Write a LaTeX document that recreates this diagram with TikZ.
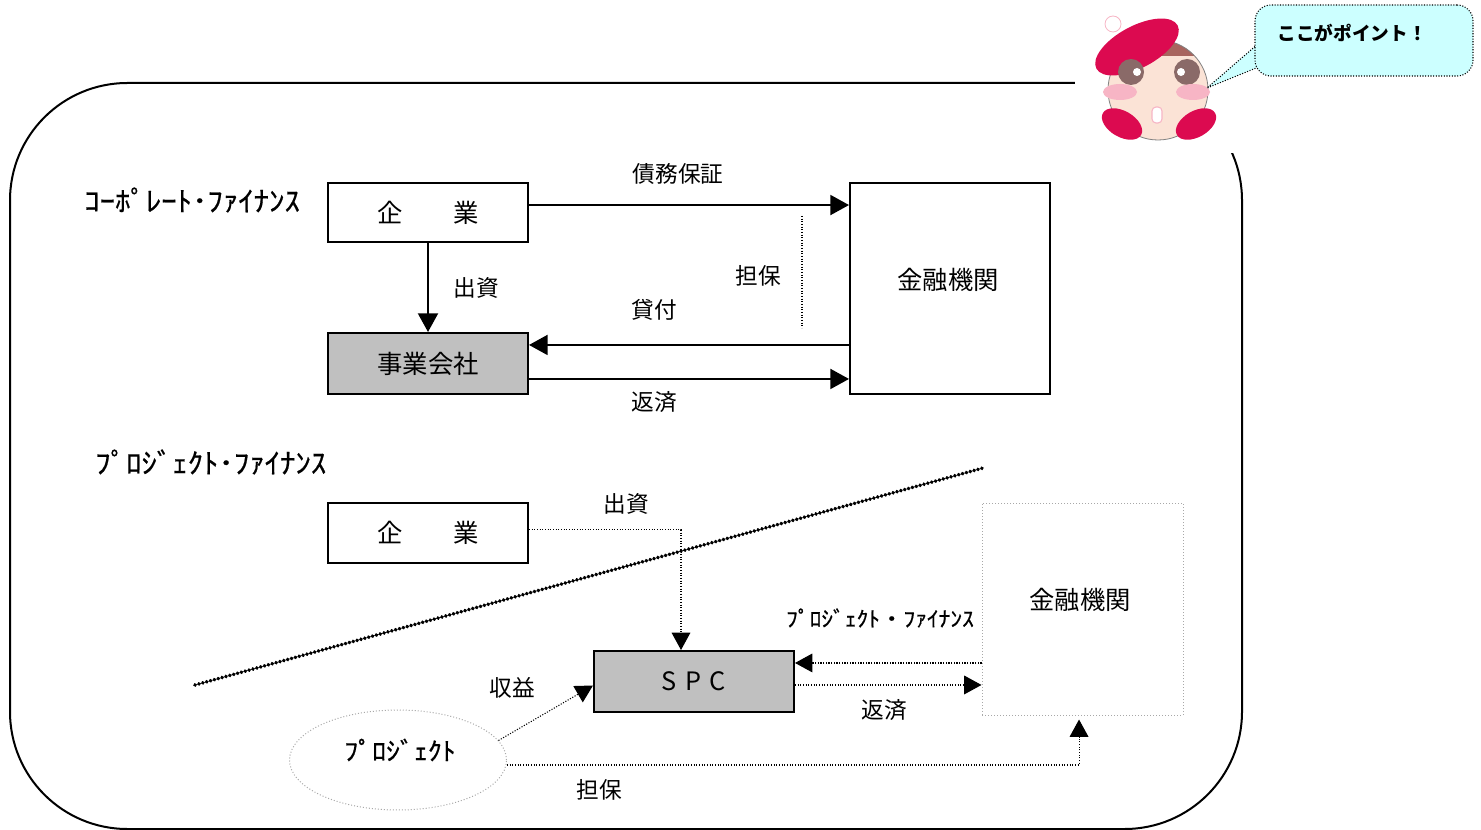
\documentclass[tikz,border=0pt]{standalone}
\usepackage{fontspec}
\setmainfont{Noto Sans CJK JP}
\newfontfamily\hankaku{Noto Sans CJK JP}[FakeStretch=1.1, FakeBold=0.6]
\usepackage{tikz}
\usetikzlibrary{arrows.meta, positioning, shapes.geometric}

\definecolor{boxgray}{HTML}{C0C0C0}
\definecolor{dotgray}{HTML}{A8A8A8}
\definecolor{beret}{HTML}{DC0A50}
\definecolor{skin}{HTML}{FBE3D6}
\definecolor{hair}{HTML}{A8645E}
\definecolor{iris}{HTML}{8A6A68}
\definecolor{cheek}{HTML}{F7B5C5}
\definecolor{bubblefill}{HTML}{CCFFFF}

\begin{document}
\begin{tikzpicture}[
    x=0.75pt, y=-0.75pt,
    every node/.style={inner sep=0pt, font=\fontsize{17pt}{20pt}\selectfont},
    box/.style={rectangle, draw, line width=1.5pt, minimum width=150pt,
                font=\fontsize{19pt}{22pt}\selectfont},
    shaded/.style={box, fill=boxgray},
    ghost/.style={rectangle, draw=dotgray, line width=0.75pt,
                  dash pattern=on 0.75pt off 1.5pt},
    heading/.style={anchor=west, font=\hankaku\fontsize{21pt}{24pt}\selectfont},
    lbl/.style={font=\fontsize{17pt}{20pt}\selectfont},
    arrow/.style={-{Triangle[length=14pt, width=15pt]}, line width=1.5pt},
    dotline/.style={line width=0.8pt, dash pattern=on 0.8pt off 1.2pt},
    dotarrow/.style={dotline, -{Triangle[length=13pt, width=14pt]}},
    beads/.style={line width=2.8pt, dash pattern=on 0.2pt off 2.8pt, line cap=round},
]
\useasboundingbox (0,0) rectangle (1481,830);

% outer frame, opened where the mascot sits
\draw[line width=1.5pt, rounded corners=88pt] (10,83) rectangle (1242,829);
\fill[white] (1075,55) rectangle (1240,153);

% corporate finance
\node[heading] (corphead) at (84,200) {ｺｰﾎﾟﾚｰﾄ･ﾌｧｲﾅﾝｽ};
\node[box, minimum height=44.25pt] (corp1) at (428,212.5) {企　　業};
\node[shaded, minimum height=45.75pt, below=66.75pt of corp1] (opco) {事業会社};
\node[box, minimum height=158.25pt] (bank1) at (950,288.5) {};
\node (bank1txt) at (948,280) {\fontsize{19pt}{22pt}\selectfont 金融機関};

\draw[arrow] (corp1.south) -- (opco.north);
\draw[arrow] ([yshift=5.6pt]corp1.east) -- ([yshift=5.6pt]corp1.east -| bank1.west);
\draw[arrow] ([yshift=13.9pt]opco.east -| bank1.west) -- ([yshift=13.9pt]opco.east);
\draw[arrow] ([yshift=-11.6pt]opco.east) -- ([yshift=-11.6pt]opco.east -| bank1.west);
\draw[dotline] (802,216) -- (802,328);

\node[lbl] (guar) at (678,174) {債務保証};
\node[lbl] (inv1) at (476,288) {出資};
\node[lbl] (loan) at (654,310) {貸付};
\node[lbl] (rep1) at (654,402) {返済};
\node[lbl] (coll1) at (758,276) {担保};

% project finance
\node[heading] (projhead) at (95,462) {ﾌﾟﾛｼﾞｪｸﾄ･ﾌｧｲﾅﾝｽ};
\node[box, minimum height=45pt] (corp2) at (428,533) {企　　業};
\node[shaded, minimum height=45.75pt] (spc) at (694,681.5) {S\,\,P\,\,C};
\node[ghost, minimum width=150.75pt, minimum height=159pt] (bank2) at (1082.5,609) {};
\node (bank2txt) at (1080,600) {\fontsize{19pt}{22pt}\selectfont 金融機関};
\node[ellipse, draw=dotgray, line width=0.75pt, dash pattern=on 0.75pt off 1.5pt,
      minimum width=162.75pt, minimum height=75pt] (proj) at (398,760) {};
\node (projtxt) at (400,750) {\hankaku\fontsize{19pt}{22pt}\selectfont ﾌﾟﾛｼﾞｪｸﾄ};

\draw[beads] (195,685) -- (983,468);

\draw[dotarrow] ([yshift=2.3pt]corp2.east) -| ([xshift=-9.75pt]spc.north);
\draw[dotarrow] ([yshift=13.9pt]spc.east -| bank2.west) -- ([yshift=13.9pt]spc.east);
\draw[dotarrow] ([yshift=-2.6pt]spc.east) -- ([yshift=-2.6pt]spc.east -| bank2.west);
\draw[dotarrow] (proj.11) -- ([yshift=-3pt]spc.west);
\draw[dotarrow, shorten >=3pt] ([yshift=-3.75pt]proj.east) -| ([xshift=-2.6pt]bank2.south);

\node[lbl] (inv2) at (626,504) {出資};
\node[lbl] (pf) at (880,618) {\hankaku\fontsize{16pt}{20pt}\selectfont ﾌﾟﾛｼﾞｪｸﾄ・ﾌｧｲﾅﾝｽ};
\node[lbl] (rep2) at (884,710) {返済};
\node[lbl] (gain) at (512,688) {収益};
\node[lbl] (coll2) at (599,790) {担保};

% mascot
\fill[skin] (1158,90) circle[radius=50];
\begin{scope}
  \clip (1158,90) circle[radius=50];
  \fill[hair] (1100,30) rectangle (1220,56);
\end{scope}
\draw[gray, line width=0.6pt] (1158,90) circle[radius=50];
\fill[beret, rotate around={28:(1137,47)}] (1137,47) ellipse[x radius=46, y radius=21];
\filldraw[fill=white, draw=cheek, line width=0.6pt] (1113,24) circle[radius=8];
\fill[iris] (1131,72) circle[radius=13];
\fill[iris] (1187,72) circle[radius=13];
\fill[white] (1137,72) circle[radius=4];
\fill[white] (1181,72) circle[radius=4];
\fill[cheek] (1120,92) ellipse[x radius=17, y radius=8];
\fill[cheek] (1193,92) ellipse[x radius=17, y radius=8];
\filldraw[fill=white, draw=cheek, line width=0.8pt, rounded corners=3pt]
  (1152,107) rectangle (1162,123);
\fill[beret, rotate around={-30:(1122,124)}] (1122,124) ellipse[x radius=22, y radius=13];
\fill[beret, rotate around={30:(1196,124)}] (1196,124) ellipse[x radius=22, y radius=13];

% speech bubble
\filldraw[fill=bubblefill, dotline, draw=black] (1259,43) -- (1207,88) -- (1261,66);
\node[rectangle, rounded corners=12pt, fill=bubblefill, draw, dotline,
      minimum width=163.5pt, minimum height=53.25pt] (bubble) at (1364,40.5) {};
\node (bubbletxt) at (1352,33) {\bfseries\fontsize{14pt}{16pt}\selectfont ここがポイント！};
\end{tikzpicture}
\end{document}
